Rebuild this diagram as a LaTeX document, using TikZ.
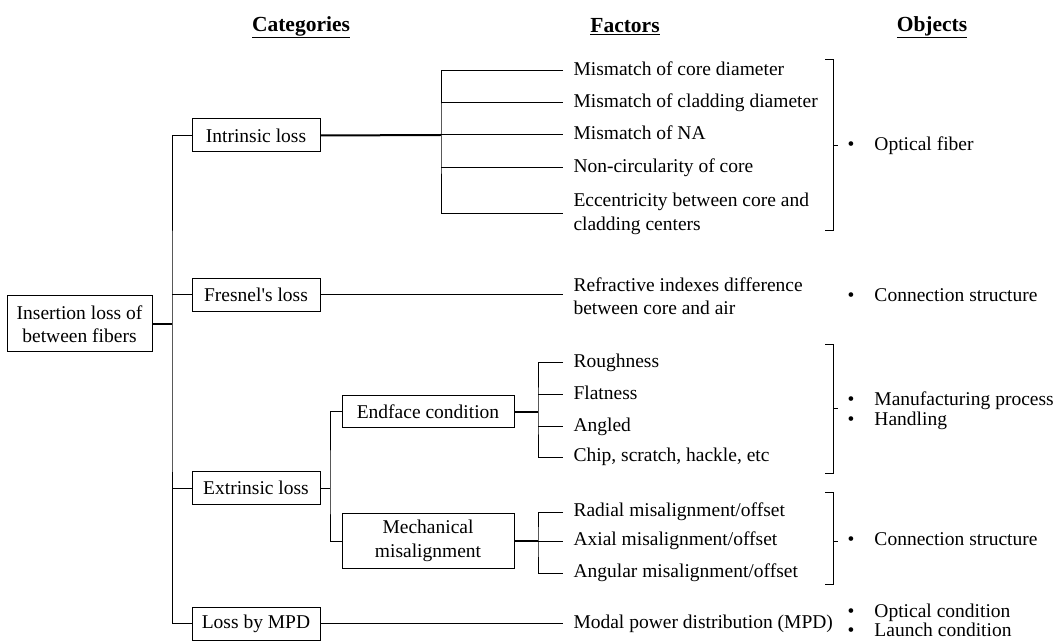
\documentclass[tikz,border=0pt]{standalone}
\usepackage{fontspec}
\setmainfont{Liberation Serif}
\newcommand{\objitem}[1]{\makebox[27pt][l]{\textbullet}#1}
\begin{document}
\begin{tikzpicture}[x=1pt,y=-1pt,line width=1pt,
  font=\fontsize{19.5}{23.5}\selectfont,
  catbox/.style={draw,rectangle,minimum width=128pt,minimum height=33pt,inner sep=0pt,text centered},
  subbox/.style={draw,rectangle,minimum width=172pt,inner sep=0pt,align=center},
  factor/.style={anchor=west,inner xsep=10pt,inner ysep=0pt,text height=13pt,text depth=4pt},
  factortwo/.style={anchor=west,inner xsep=10pt,inner ysep=0pt,align=left},
  object/.style={anchor=west,inner sep=0pt,text height=13pt,text depth=4pt},
  header/.style={font=\fontsize{21.5}{24}\selectfont\bfseries},
  heavy/.style={line width=2pt}]
\useasboundingbox (0,0) rectangle (1053,644);
\def\xCat{256}
\def\xFac{563}
\def\xObj{847}

% column titles
\path
(301,27) node [header] (hcat) {\underline{Categories}}
(625,27) node [header] (hfac) {\underline{Factors}}
(932,27) node [header] (hobj) {\underline{Objects}}
;

% boxes
\path
(79.5,324) node [draw,minimum width=145pt,minimum height=56pt,inner sep=0pt,align=center] (root) {Insertion loss of\\between fibers}
(\xCat,135.5) node [catbox] (intr) {Intrinsic loss}
(\xCat,295) node [catbox] (fres) {Fresnel\textquotesingle s loss}
(\xCat,488) node [catbox] (extr) {Extrinsic loss}
(\xCat,623.5) node [catbox] (mpd) {Loss by MPD}
(428,412) node [subbox,minimum height=32pt] (endf) {Endface condition}
(428,541) node [subbox,minimum height=55pt] (mech) {Mechanical\\misalignment}
;

% factors
\path
(\xFac,71) node [factor] (fa1) {Mismatch of core diameter}
(\xFac,103) node [factor] (fa2) {Mismatch of cladding diameter}
(\xFac,135) node [factor] (fa3) {Mismatch of NA}
(\xFac,168) node [factor] (fa4) {Non-circularity of core}
(\xFac,214) node [factortwo] (fa5) {Eccentricity between core and\\cladding centers}
(\xFac,296) node [factortwo] (fre) {Refractive indexes difference\\between core and air}
(\xFac,363) node [factor] (ef1) {Roughness}
(\xFac,395) node [factor] (ef2) {Flatness}
(\xFac,427) node [factor] (ef3) {Angled}
(\xFac,457) node [factor] (ef4) {Chip, scratch, hackle, etc}
(\xFac,512) node [factor] (mm1) {Radial misalignment/offset}
(\xFac,541) node [factor] (mm2) {Axial misalignment/offset}
(\xFac,573) node [factor] (mm3) {Angular misalignment/offset}
(\xFac,623.5) node [factor] (mpdf) {Modal power distribution (MPD)}
;

% objects
\path
(\xObj,146) node [object] (ob1) {\objitem{Optical fiber}}
(\xObj,297) node [object] (ob2) {\objitem{Connection structure}}
(\xObj,401) node [object] (ob3) {\objitem{Manufacturing process}}
(\xObj,421) node [object] (ob4) {\objitem{Handling}}
(\xObj,541) node [object] (ob5) {\objitem{Connection structure}}
(\xObj,613) node [object] (ob6) {\objitem{Optical condition}}
(\xObj,632) node [object] (ob7) {\objitem{Launch condition}}
;

\coordinate (jR) at (172,324);
\coordinate (jI) at (441,135);
\coordinate (jE) at (330,488);
\coordinate (jF) at (538,412);
\coordinate (jM) at (538,541);

% tree
\draw[heavy] (root.east) -- (jR);
\draw (intr.west) -| (jR) |- (mpd.west);
\draw (jR |- fres.west) -- (fres.west);
\draw (jR |- extr.west) -- (extr.west);

\draw[heavy] (intr.east) -- (jI);
\draw (fa1.west) -| (jI) |- (fa5.west);
\draw (jI |- fa2.west) -- (fa2.west);
\draw (jI) -- (fa3.west);
\draw (jI |- fa4.west) -- (fa4.west);

\draw (fres.east) -- (fres.east -| fre.west);

\draw (extr.east) -- (jE);
\draw (endf.west) -| (jE) |- (mech.west);

\draw[heavy] (endf.east) -- (jF);
\draw (ef1.west) -| (jF) |- (ef4.west);
\draw (jF |- ef2.west) -- (ef2.west);
\draw (jF |- ef3.west) -- (ef3.west);

\draw[heavy] (mech.east) -- (jM);
\draw (mm1.west) -| (jM) |- (mm3.west);
\draw (jM) -- (mm2.west);

\draw (mpd.east) -- (mpdf.west);

% brackets
\begin{scope}[every path/.style=draw]
\path (825,60) -- (833,60) -- (833,231) -- (825,231);
\path (833,146) -- (838,146);
\path (825,345) -- (833,345) -- (833,473) -- (825,473);
\path (833,409) -- (838,409);
\path (825,492) -- (833,492) -- (833,584) -- (825,584);
\path (833,541) -- (838,541);
\end{scope}
\end{tikzpicture}
\end{document}
